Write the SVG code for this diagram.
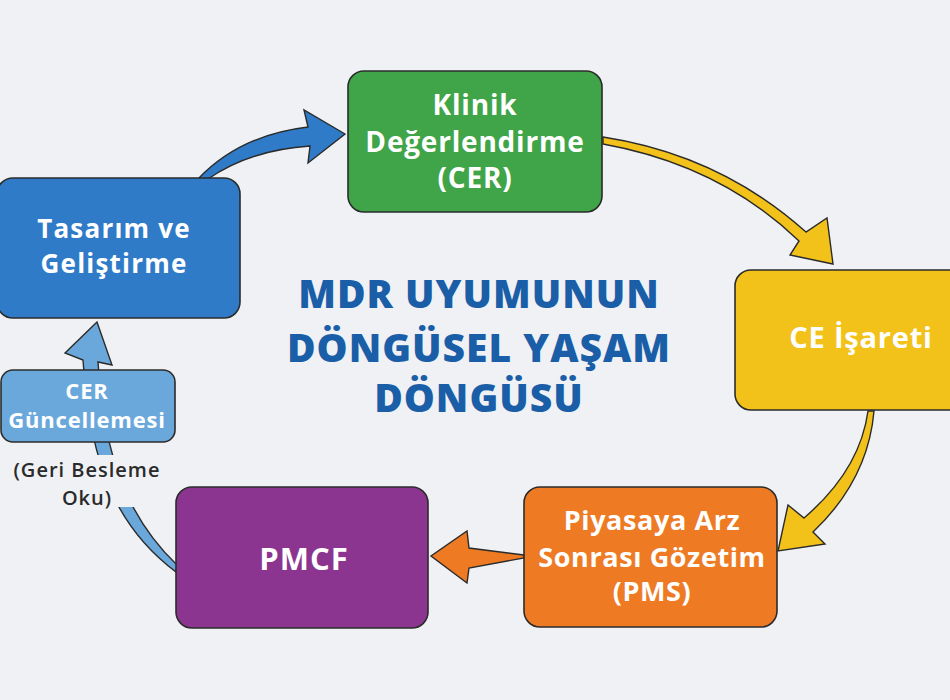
<svg xmlns="http://www.w3.org/2000/svg" width="950" height="700" viewBox="0 0 950 700">
<style>
.box{stroke:#2b2b2b;stroke-width:1.6}
.t{font-family:"Open Sans","Liberation Sans",sans-serif;font-weight:700;fill:#ffffff;text-anchor:middle}
.arr{stroke:#2b2b2b;stroke-width:1.4;stroke-linejoin:miter}
.title{font-family:"Open Sans","Liberation Sans",sans-serif;font-weight:800;fill:#1a5ea8;text-anchor:middle;font-size:39px;letter-spacing:1px}
</style>
<rect x="0" y="0" width="950" height="700" fill="#eff1f4"/>
<g id="connectors">
  <path class="arr" fill="#2f7bc8" d="M198,179 Q240,135 308,127 L304,110 L345,134 L308,163 L310,146 Q250,150 208,179 Z"/>
  <path class="arr" fill="#f2c21a" d="M603,137 Q720,155 806,232 L827,218 L833,264 L790,255 L799,241 Q720,165 603,144 Z"/>
  <path class="arr" fill="#f2c21a" d="M868,411 Q860,470 804,518 L788,505 L778,551 L825,544 L813,532 Q868,480 874,411 Z"/>
  <path class="arr" fill="#ee7b24" d="M524,555 L469,548 L467,531 L431,556 L467,583 L469,568 L524,558 Z"/>
  <path class="arr" fill="#6aa8dc" d="M176,572 C120,530 90,470 83,360 L65,353 L97,322 L112,365 L98,362 C104,460 130,520 177,565 Z"/>
</g>
<g id="title">
  <text class="title" x="479" y="308">MDR UYUMUNUN</text>
  <text class="title" x="479" y="362">DÖNGÜSEL YAŞAM</text>
  <text class="title" x="479" y="412">DÖNGÜSÜ</text>
</g>
<g id="klinik">
  <rect class="box" x="348" y="71" width="254" height="141" rx="16" fill="#3fa548"/>
  <text class="t" x="475" y="115" font-size="28" letter-spacing="0.8">Klinik</text>
  <text class="t" x="475" y="152" font-size="28" letter-spacing="0.8">Değerlendirme</text>
  <text class="t" x="475" y="188" font-size="28" letter-spacing="0.8">(CER)</text>
</g>
<g id="ce">
  <rect class="box" x="735" y="270" width="230" height="140" rx="16" fill="#f2c21a"/>
  <text class="t" x="861" y="348" font-size="29" letter-spacing="0.8">CE İşareti</text>
</g>
<g id="pms">
  <rect class="box" x="524" y="487" width="253" height="140" rx="16" fill="#ee7b24"/>
  <text class="t" x="652" y="530" font-size="27" letter-spacing="0.6">Piyasaya Arz</text>
  <text class="t" x="652" y="567" font-size="27" letter-spacing="0.6">Sonrası Gözetim</text>
  <text class="t" x="652" y="601" font-size="27" letter-spacing="0.6">(PMS)</text>
</g>
<g id="pmcf">
  <rect class="box" x="176" y="487" width="252" height="141" rx="16" fill="#8b3591"/>
  <text class="t" x="304" y="570" font-size="31" letter-spacing="1">PMCF</text>
</g>
<g id="tasarim">
  <rect class="box" x="-3" y="178" width="243" height="140" rx="16" fill="#2f7bc8"/>
  <text class="t" x="114" y="238" font-size="26" letter-spacing="1.2">Tasarım ve</text>
  <text class="t" x="114" y="273" font-size="26" letter-spacing="1.2">Geliştirme</text>
</g>
<g id="cer-guncelleme">
  <rect class="box" x="1" y="370" width="174" height="72" rx="12" fill="#6aa8dc"/>
  <text class="t" x="87" y="399" font-size="22" letter-spacing="0.8">CER</text>
  <text class="t" x="87" y="428" font-size="22" letter-spacing="0.8">Güncellemesi</text>
</g>
<g id="geri-besleme">
  <rect x="2" y="455" width="172" height="52" fill="#eff1f4"/>
  <text class="t" x="87" y="477" font-size="20" letter-spacing="1" style="fill:#2a2a2a;font-weight:600">(Geri Besleme</text>
  <text class="t" x="87" y="505" font-size="20" letter-spacing="1" style="fill:#2a2a2a;font-weight:600">Oku)</text>
</g>
</svg>
